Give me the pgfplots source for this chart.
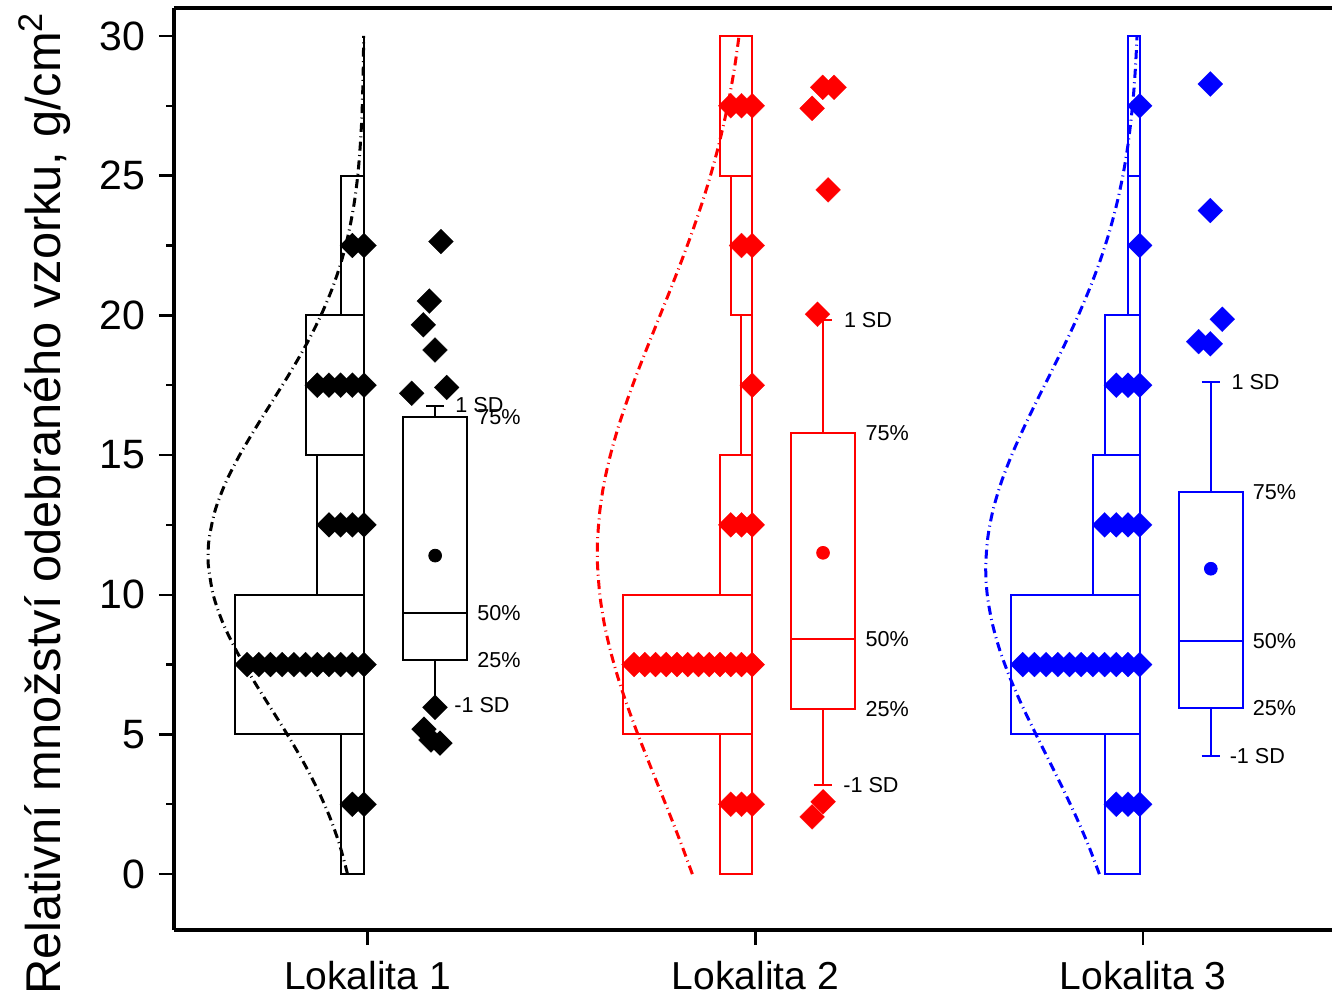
\documentclass[border=0pt]{standalone}
\usepackage{fontspec}
\setmainfont{Liberation Sans}
\usepackage{pgfplots}
\pgfplotsset{compat=1.18}
\definecolor{cR}{RGB}{255,0,0}
\definecolor{cB}{RGB}{0,0,255}
\tikzset{
  hb/.style={line width=1pt},
  nc/.style={line width=1.5pt, dash pattern=on 4.5pt off 2.2pt on 0.5pt off 2.2pt, smooth},
  dm/.style={only marks, mark=square*, mark size=4.4pt, mark options={rotate=45, line width=0.1pt}},
  mn/.style={only marks, mark=*, mark size=3.2pt},
  lb/.style={anchor=west, inner sep=0pt, font=\fontsize{10.8}{13}\selectfont, text=black},
}
\begin{document}
\begin{tikzpicture}
\begin{axis}[
  at={(0pt,0pt)}, anchor=south west,
  scale only axis, width=579pt, height=461pt,
  xmin=0.501, xmax=3.487, ymin=-2, ymax=31,
  axis lines=left, axis line style={-, line width=1.6pt, black},
  clip=false,
  xtick={1,2,3}, xticklabels={Lokalita 1,Lokalita 2,Lokalita 3},
  ytick={0,5,...,30}, minor ytick={2.5,7.5,...,27.5},
  tick align=outside, major tick length=7.5pt, minor tick length=3.8pt,
  every tick/.style={line width=1.2pt, black},
  /pgf/number format/assume math mode=true,
  yticklabel style={font=\fontsize{20.5}{23}\selectfont, xshift=-3.5pt},
  xticklabel style={font=\fontsize{19.5}{22}\selectfont, inner sep=0pt, yshift=-8pt},
  ylabel={Relativní množství odebraného vzorku, g/cm\textsuperscript{2}},
  ylabel style={font=\fontsize{24.4}{28}\selectfont, at={(rel axis cs:-0.1114,0.4626)}, anchor=center},
]
\draw[line width=1.6pt] (rel axis cs:0,1) -- (rel axis cs:1,1);

% ---------------- Lokalita 1 (black) ----------------
\addplot[hb, black] coordinates {(0.991,0) (0.991,30)};
\addplot[hb, black] coordinates {(0.9307,0) (0.991,0) (0.991,5) (0.9307,5)} -- cycle;
\addplot[hb, black] coordinates {(0.6593,5) (0.991,5) (0.991,10) (0.6593,10)} -- cycle;
\addplot[hb, black] coordinates {(0.8704,10) (0.991,10) (0.991,15) (0.8704,15)} -- cycle;
\addplot[hb, black] coordinates {(0.8402,15) (0.991,15) (0.991,20) (0.8402,20)} -- cycle;
\addplot[hb, black] coordinates {(0.9307,20) (0.991,20) (0.991,25) (0.9307,25)} -- cycle;
\addplot[nc, black] coordinates {(0.9485,0) (0.9291,1) (0.9039,2) (0.8724,3) (0.8351,4) (0.7931,5) (0.7480,6) (0.7031,7) (0.6616,8) (0.6268,9) (0.6021,10) (0.5900,11) (0.5889,11.39) (0.5915,12) (0.6067,13) (0.6338,14) (0.6704,15) (0.7129,16) (0.7580,17) (0.8026,18) (0.8438,19) (0.8799,20) (0.9101,21) (0.9340,22) (0.9521,23) (0.9655,24) (0.9748,25) (0.9809,26) (0.9851,27) (0.9876,28) (0.9892,29) (0.9900,30)};
\addplot[dm, black] coordinates {
 (0.991,2.5) (0.9609,2.5)
 (0.991,7.5) (0.9609,7.5) (0.9307,7.5) (0.9006,7.5) (0.8704,7.5) (0.8403,7.5) (0.8101,7.5) (0.7800,7.5) (0.7498,7.5) (0.7197,7.5) (0.6895,7.5)
 (0.991,12.5) (0.9609,12.5) (0.9307,12.5) (0.9006,12.5)
 (0.991,17.5) (0.9609,17.5) (0.9307,17.5) (0.9006,17.5) (0.8704,17.5)
 (0.991,22.5) (0.9609,22.5)};
\addplot[hb, black] coordinates {(1.0915,7.66) (1.2572,7.66) (1.2572,16.35) (1.0915,16.35)} -- cycle;
\addplot[hb, black] coordinates {(1.0915,9.33) (1.2572,9.33)};
\addplot[hb, black] coordinates {(1.1744,16.35) (1.1744,16.76)};
\addplot[hb, black] coordinates {(1.1504,16.76) (1.1984,16.76)};
\addplot[hb, black] coordinates {(1.1744,7.66) (1.1744,6.01)};
\addplot[hb, black] coordinates {(1.1504,6.01) (1.1984,6.01)};
\addplot[mn, black] coordinates {(1.1744,11.40)};
\addplot[dm, black] coordinates {(1.1894,22.64) (1.1593,20.51) (1.1438,19.66) (1.1740,18.76) (1.1139,17.21) (1.2041,17.42) (1.1740,5.97) (1.1456,5.19) (1.1637,4.80) (1.1869,4.69)};
\node[lb] at (axis cs:1.2255,16.79) {1 SD};
\node[lb] at (axis cs:1.2822,16.35) {75\%};
\node[lb] at (axis cs:1.2822,9.33) {50\%};
\node[lb] at (axis cs:1.2822,7.66) {25\%};
\node[lb] at (axis cs:1.2229,6.05) {-1 SD};

% ---------------- Lokalita 2 (red) ----------------
\addplot[hb, cR] coordinates {(1.9089,0) (1.992,0) (1.992,5) (1.9089,5)} -- cycle;
\addplot[hb, cR] coordinates {(1.6595,5) (1.992,5) (1.992,10) (1.6595,10)} -- cycle;
\addplot[hb, cR] coordinates {(1.9089,10) (1.992,10) (1.992,15) (1.9089,15)} -- cycle;
\addplot[hb, cR] coordinates {(1.9643,15) (1.992,15) (1.992,20) (1.9643,20)} -- cycle;
\addplot[hb, cR] coordinates {(1.9366,20) (1.992,20) (1.992,25) (1.9366,25)} -- cycle;
\addplot[hb, cR] coordinates {(1.9089,25) (1.992,25) (1.992,30) (1.9089,30)} -- cycle;
\addplot[nc, cR] coordinates {(1.8376,0) (1.8111,1) (1.7832,2) (1.7544,3) (1.7255,4) (1.6972,5) (1.6706,6) (1.6466,7) (1.6263,8) (1.6100,9) (1.5990,10) (1.5933,11) (1.5925,11.5) (1.5933,12) (1.5990,13) (1.6100,14) (1.6263,15) (1.6466,16) (1.6706,17) (1.6972,18) (1.7255,19) (1.7544,20) (1.7832,21) (1.8111,22) (1.8376,23) (1.8621,24) (1.8843,25) (1.9039,26) (1.9209,27) (1.9356,28) (1.9479,29) (1.9580,30)};
\addplot[dm, cR] coordinates {
 (1.992,2.5) (1.9643,2.5) (1.9366,2.5)
 (1.992,7.5) (1.9643,7.5) (1.9366,7.5) (1.9089,7.5) (1.8812,7.5) (1.8534,7.5) (1.8257,7.5) (1.7980,7.5) (1.7703,7.5) (1.7426,7.5) (1.7149,7.5) (1.6872,7.5)
 (1.992,12.5) (1.9643,12.5) (1.9366,12.5)
 (1.992,17.5)
 (1.992,22.5) (1.9643,22.5)
 (1.992,27.5) (1.9643,27.5) (1.9366,27.5)};
\addplot[hb, cR] coordinates {(2.0915,5.91) (2.2577,5.91) (2.2577,15.80) (2.0915,15.80)} -- cycle;
\addplot[hb, cR] coordinates {(2.0915,8.40) (2.2577,8.40)};
\addplot[hb, cR] coordinates {(2.1746,15.80) (2.1746,19.83)};
\addplot[hb, cR] coordinates {(2.1506,19.83) (2.1986,19.83)};
\addplot[hb, cR] coordinates {(2.1746,5.91) (2.1746,3.19)};
\addplot[hb, cR] coordinates {(2.1506,3.19) (2.1986,3.19)};
\addplot[mn, cR] coordinates {(2.1746,11.50)};
\addplot[dm, cR] coordinates {(2.1738,28.16) (2.2030,28.16) (2.1464,27.41) (2.1876,24.49) (2.1603,20.04) (2.1747,2.59) (2.1464,2.05)};
\node[lb] at (axis cs:2.2276,19.83) {1 SD};
\node[lb] at (axis cs:2.2835,15.80) {75\%};
\node[lb] at (axis cs:2.2835,8.40) {50\%};
\node[lb] at (axis cs:2.2835,5.91) {25\%};
\node[lb] at (axis cs:2.2260,3.19) {-1 SD};

% ---------------- Lokalita 3 (blue) ----------------
\addplot[hb, cB] coordinates {(2.9005,0) (2.991,0) (2.991,5) (2.9005,5)} -- cycle;
\addplot[hb, cB] coordinates {(2.6593,5) (2.991,5) (2.991,10) (2.6593,10)} -- cycle;
\addplot[hb, cB] coordinates {(2.8704,10) (2.991,10) (2.991,15) (2.8704,15)} -- cycle;
\addplot[hb, cB] coordinates {(2.9005,15) (2.991,15) (2.991,20) (2.9005,20)} -- cycle;
\addplot[hb, cB] coordinates {(2.9609,20) (2.991,20) (2.991,25) (2.9609,25)} -- cycle;
\addplot[hb, cB] coordinates {(2.9609,25) (2.991,25) (2.991,30) (2.9609,30)} -- cycle;
\addplot[nc, cB] coordinates {(2.8871,0) (2.8598,1) (2.8289,2) (2.7951,3) (2.7596,4) (2.7237,5) (2.6889,6) (2.6575,7) (2.6307,8) (2.6106,9) (2.5980,10) (2.5941,10.94) (2.5990,12) (2.6124,13) (2.6335,14) (2.6611,15) (2.6931,16) (2.7279,17) (2.7639,18) (2.7992,19) (2.8328,20) (2.8632,21) (2.8902,22) (2.9132,23) (2.9322,24) (2.9477,25) (2.9598,26) (2.9688,27) (2.9758,28) (2.9807,29) (2.9843,30)};
\addplot[dm, cB] coordinates {
 (2.991,2.5) (2.9609,2.5) (2.9307,2.5)
 (2.991,7.5) (2.9609,7.5) (2.9307,7.5) (2.9006,7.5) (2.8704,7.5) (2.8403,7.5) (2.8101,7.5) (2.7800,7.5) (2.7498,7.5) (2.7197,7.5) (2.6895,7.5)
 (2.991,12.5) (2.9609,12.5) (2.9307,12.5) (2.9006,12.5)
 (2.991,17.5) (2.9609,17.5) (2.9307,17.5)
 (2.991,22.5)
 (2.991,27.5)};
\addplot[hb, cB] coordinates {(3.0915,5.93) (3.2577,5.93) (3.2577,13.69) (3.0915,13.69)} -- cycle;
\addplot[hb, cB] coordinates {(3.0915,8.35) (3.2577,8.35)};
\addplot[hb, cB] coordinates {(3.1745,13.69) (3.1745,17.61)};
\addplot[hb, cB] coordinates {(3.1505,17.61) (3.1985,17.61)};
\addplot[hb, cB] coordinates {(3.1745,5.93) (3.1745,4.24)};
\addplot[hb, cB] coordinates {(3.1505,4.24) (3.1985,4.24)};
\addplot[mn, cB] coordinates {(3.1745,10.93)};
\addplot[dm, cB] coordinates {(3.1732,28.28) (3.1732,23.75) (3.2041,19.86) (3.1430,19.06) (3.1732,18.98)};
\node[lb] at (axis cs:3.2268,17.61) {1 SD};
\node[lb] at (axis cs:3.2817,13.69) {75\%};
\node[lb] at (axis cs:3.2817,8.35) {50\%};
\node[lb] at (axis cs:3.2817,5.93) {25\%};
\node[lb] at (axis cs:3.2224,4.24) {-1 SD};
\end{axis}
\pgfresetboundingbox
\path[use as bounding box] (-87pt,-33pt) rectangle (579pt,465pt);
\end{tikzpicture}
\end{document}
